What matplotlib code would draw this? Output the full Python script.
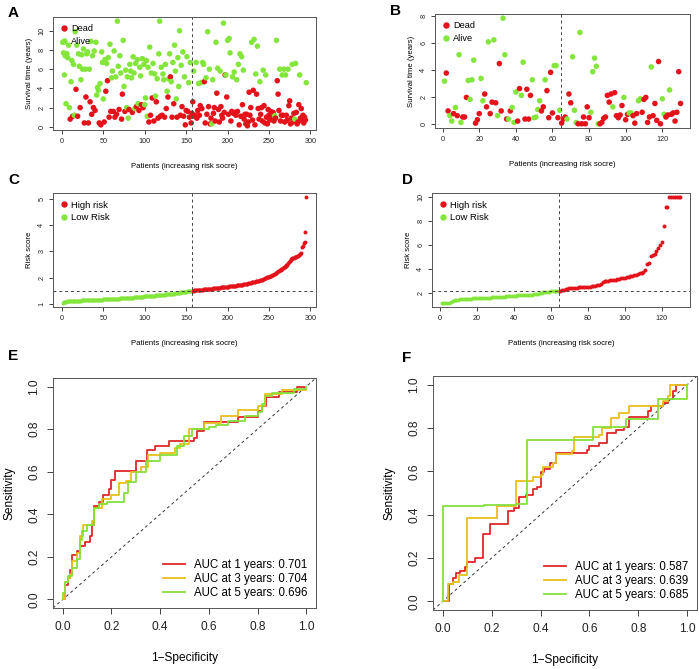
import numpy as np
import matplotlib.pyplot as plt
from matplotlib.lines import Line2D

plt.rcParams['font.family'] = ['Liberation Sans', 'DejaVu Sans']

RED = '#E3121B'
GREEN = '#84E63C'
ROC_COLS = ['#E0262A', '#E8BE1E', '#86E03A']

# Panel A: survival time per patient (training set, sorted by risk score)
surv_a = [
    8.8, 7.7, 5.4, 7.4, 2.4, 7.6, 7.2, 8.5, 2.0, 0.8,
    4.7, 6.9, 1.1, 6.5, 1.2, 9.9, 3.9, 8.5, 1.1, 7.6,
    6.3, 2.0, 4.9, 7.5, 6.0, 8.1, 0.4, 6.0, 3.1, 7.6,
    7.8, 0.4, 6.0, 2.6, 8.9, 1.3, 7.4, 2.0, 7.9, 1.7,
    8.8, 3.3, 4.1, 3.8, 0.4, 4.5, 0.2, 7.8, 6.7, 2.9,
    0.5, 7.0, 3.7, 6.6, 4.8, 7.2, 1.0, 8.6, 1.6, 5.1,
    5.8, 1.6, 7.9, 1.0, 5.2, 1.3, 11.0, 6.3, 1.8, 7.4,
    5.6, 0.8, 3.4, 9.0, 4.2, 1.6, 5.9, 2.0, 5.2, 0.9,
    1.8, 6.5, 5.8, 5.1, 1.5, 7.3, 5.6, 1.9, 6.6, 2.1,
    7.0, 2.4, 1.7, 6.2, 5.3, 2.3, 7.1, 2.0, 6.5, 2.3,
    3.0, 6.9, 1.1, 6.2, 0.5, 8.3, 1.2, 5.6, 3.0, 6.6,
    0.6, 5.5, 3.2, 2.6, 5.0, 0.9, 7.6, 11.0, 1.1, 6.2,
    1.2, 5.5, 4.9, 1.0, 6.5, 1.9, 3.7, 3.1, 5.0, 7.6,
    5.2, 4.7, 1.0, 6.7, 2.4, 8.5, 5.8, 2.9, 1.0, 7.2,
    4.2, 10.0, 1.2, 6.4, 2.1, 7.8, 1.1, 5.2, 0.2, 1.7,
    7.3, 1.6, 4.6, 1.0, 6.7, 0.4, 1.4,
    2.6, 5.8, 1.1, 1.2, 6.7, 0.9, 1.7, 4.5, 1.2, 2.2,
    4.6, 1.9, 6.7, 6.5, 4.7, 0.4, 5.1, 1.3, 9.9, 2.1,
    6.0, 0.3, 0.9, 0.3, 4.9, 1.4, 2.0, 0.6, 8.8, 3.5,
    6.1, 1.8, 0.5, 5.8, 2.1, 1.2, 0.9, 10.8, 1.5, 5.4,
    5.4, 3.1, 9.0, 1.3, 9.2, 7.7, 0.6, 1.6, 5.2, 1.4,
    5.7, 1.5, 1.2, 4.9, 1.6, 6.5, 0.2, 7.6, 1.1, 7.3,
    2.3, 5.9, 0.8, 1.3, 0.3, 1.3, 0.1, 0.5, 3.6, 1.2,
    2.0, 8.8, 0.7, 3.8, 9.1, 0.2, 5.5, 3.4, 8.4, 1.9,
    0.8, 4.7, 1.3, 2.0, 0.6, 5.9, 2.2, 0.4, 5.4, 1.0,
    0.3, 1.8, 1.2, 0.7, 1.6, 0.9, 0.8, 1.5, 0.6, 1.15,
    0.9, 9.0, 4.8, 3.4, 1.7, 6.0, 0.6, 1.2, 5.4, 1.2,
    6.0, 0.5, 5.4, 1.2, 0.7, 6.0, 2.2, 2.7, 0.3, 0.9,
    6.5, 0.5, 1.4, 0.8, 6.6, 1.5, 0.3, 0.5, 2.3, 5.4,
    0.9, 1.9, 0.6, 1.2, 0.4, 1.0, 0.7, 4.6,
]
status_a = (
    "AAAAAAAAAD" "AADAAADADA" "ADAAAADADA" "ADADADADAD" "AAAADADAAA"
    "DADADADADA" "ADADADAADA" "ADDAADAAAA" "DAAADAAAAD" "AADAADADAA"
    "AAAADADADA" "DAADADAADA" "DAADADADAA" "DADADAAADA" "AADADADADD"
    "ADADADD"
    "DADDADDADD" "ADAADDADAD" "ADDAADDDAD" "ADDADDDADD" "ADADAADDAD"
    "ADDADADADA" "DADDDDDDDD" "DADDADADAD" "DADDDADDAD" "DDDDDDDDDA"
    "DADDDADDAD" "ADADDADDDD" "ADDAADDDDA" "DDDDDDDA"
)
n_low_a = 157

# Panel B: survival time per patient (validation set)
surv_b = [
    3.2, 3.8, 1.0, 0.65, 0.25, 0.8, 1.25, 0.65, 5.15, 0.15,
    0.55, 0.55, 2.0, 3.25, 1.85, 3.3, 4.75, 0.1, 0.35, 0.8,
    3.4, 1.75, 2.25, 1.3, 6.1, 0.8, 1.65, 6.25, 1.6, 0.65,
    4.5, 1.0, 7.85, 5.15, 0.4, 0.4, 1.0, 1.25, 0.15, 2.4,
    0.25, 2.65, 2.15, 4.6, 0.4, 2.6, 0.4, 2.15, 3.3, 0.5,
    0.55, 1.1, 1.75, 1.0, 1.3, 3.3, 2.5, 0.5, 3.85, 0.85,
    4.35, 4.35, 0.5, 1.05, 0.1, 0.4, 0.55, 0.4, 2.25, 1.6,
    5.0, 1.05, 0.15, 0.05, 6.8, 0.05, 0.55, 0.05, 1.3, 0.5,
    0.9, 3.9, 4.9, 4.3, 0.05, 0.05, 0.15, 0.45, 0.55, 2.15,
    1.65, 2.25, 1.3, 2.35, 0.65, 0.5, 0.7, 1.4, 2.0, 0.35,
    0.75, 0.85, 0.85, 0.65, 0.1, 0.8, 1.75, 1.9, 0.9, 1.85,
    2.0, 0.15, 0.55, 4.25, 0.65, 1.55, 0.3, 4.65, 0.05, 1.9,
    0.75, 0.55, 0.7, 2.55, 0.75, 0.85, 0.25, 0.9, 3.9, 1.55,
]
status_b = (
    "ADDAADADAA" "DDDAAAADDD" "AADDADDADA" "DDAADADAAA" "DDAADDDDAA"
    "AAADDADDDD" "AADADDDADD" "AAADADDDDD" "AAAAADDDDD" "DDADDDDDAD"
    "DAADDDAADD" "DDDADDDDDA" "ADDADDDDDD"
)
n_low_b = 64

# Panel C: risk scores (training set)
risk_low_c = [
    1.05, 1.07, 1.08, 1.09, 1.09, 1.10, 1.10, 1.10, 1.11, 1.11,
    1.11, 1.11, 1.12, 1.12, 1.12, 1.12, 1.12, 1.13, 1.13, 1.13,
    1.13, 1.13, 1.13, 1.14, 1.14, 1.14, 1.14, 1.14, 1.14, 1.15,
    1.15, 1.15, 1.15, 1.15, 1.15, 1.15, 1.16, 1.16, 1.16, 1.16,
    1.16, 1.16, 1.16, 1.17, 1.17, 1.17, 1.17, 1.17, 1.17, 1.18,
    1.18, 1.18, 1.18, 1.18, 1.18, 1.19, 1.19, 1.19, 1.19, 1.19,
    1.20, 1.20, 1.20, 1.20, 1.20, 1.21, 1.21, 1.21, 1.21, 1.22,
    1.22, 1.22, 1.22, 1.22, 1.23, 1.23, 1.23, 1.23, 1.24, 1.24,
    1.24, 1.24, 1.25, 1.25, 1.25, 1.25, 1.26, 1.26, 1.26, 1.26,
    1.27, 1.27, 1.27, 1.27, 1.28, 1.28, 1.28, 1.28, 1.29, 1.29,
    1.29, 1.30, 1.30, 1.30, 1.30, 1.31, 1.31, 1.31, 1.32, 1.32,
    1.32, 1.32, 1.33, 1.33, 1.33, 1.34, 1.34, 1.34, 1.35, 1.35,
    1.35, 1.36, 1.36, 1.36, 1.37, 1.37, 1.37, 1.38, 1.38, 1.38,
    1.39, 1.39, 1.39, 1.40, 1.40, 1.41, 1.41, 1.41, 1.42, 1.42,
    1.43, 1.43, 1.44, 1.44, 1.45, 1.45, 1.46, 1.46, 1.47, 1.47,
    1.48, 1.48, 1.49, 1.49, 1.49, 1.50, 1.50,
]
risk_high_c = [
    1.51, 1.51, 1.52, 1.52, 1.53, 1.53, 1.53, 1.54, 1.54, 1.54,
    1.55, 1.55, 1.55, 1.56, 1.56, 1.56, 1.57, 1.57, 1.57, 1.58,
    1.58, 1.58, 1.59, 1.59, 1.59, 1.60, 1.60, 1.60, 1.61, 1.61,
    1.61, 1.62, 1.62, 1.62, 1.63, 1.63, 1.63, 1.64, 1.64, 1.65,
    1.65, 1.65, 1.66, 1.66, 1.67, 1.67, 1.68, 1.68, 1.68, 1.69,
    1.69, 1.70, 1.70, 1.71, 1.71, 1.72, 1.72, 1.73, 1.73, 1.74,
    1.74, 1.75, 1.75, 1.76, 1.77, 1.77, 1.78, 1.79, 1.79, 1.80,
    1.81, 1.82, 1.82, 1.83, 1.84, 1.85, 1.86, 1.86, 1.87, 1.88,
    1.89, 1.90, 1.91, 1.92, 1.93, 1.95, 1.96, 1.98, 1.99, 2.01,
    2.02, 2.03, 2.04, 2.05, 2.06, 2.08, 2.09, 2.11, 2.13, 2.15,
    2.17, 2.19, 2.22, 2.24, 2.26, 2.28, 2.30, 2.32, 2.34, 2.36,
    2.39, 2.42, 2.45, 2.48, 2.50, 2.54, 2.58, 2.63, 2.68, 2.72,
    2.74, 2.75, 2.76, 2.78, 2.79, 2.80, 2.82, 2.84, 2.86, 2.88,
    2.90, 2.92, 3.15, 3.20, 3.30, 3.35, 3.72, 5.05,
]
cut_c = 1.50

# Panel D: risk scores (validation set)
risk_low_d = [
    1.20, 1.20, 1.20, 1.21, 1.22, 1.30, 1.38, 1.42, 1.45, 1.47,
    1.49, 1.50, 1.51, 1.52, 1.53, 1.54, 1.55, 1.56, 1.57, 1.58,
    1.59, 1.60, 1.61, 1.62, 1.62, 1.63, 1.64, 1.65, 1.66, 1.67,
    1.68, 1.69, 1.70, 1.71, 1.72, 1.73, 1.74, 1.75, 1.77, 1.79,
    1.80, 1.81, 1.82, 1.83, 1.84, 1.85, 1.86, 1.87, 1.88, 1.89,
    1.90, 1.92, 1.95, 1.98, 2.02, 2.06, 2.10, 2.12, 2.14, 2.15,
    2.16, 2.17, 2.18, 2.19,
]
risk_high_d = [
    2.20, 2.26, 2.30, 2.34, 2.38, 2.40, 2.42, 2.44, 2.46, 2.47,
    2.48, 2.50, 2.51, 2.52, 2.53, 2.54, 2.55, 2.56, 2.57, 2.60,
    2.65, 2.72, 2.80, 2.90, 3.00, 3.02, 3.04, 3.06, 3.10, 3.12,
    3.14, 3.17, 3.20, 3.23, 3.26, 3.30, 3.34, 3.38, 3.42, 3.46,
    3.50, 3.55, 3.60, 3.65, 3.70, 3.80, 3.90, 4.40, 4.55, 5.10,
    5.20, 5.30, 5.55, 5.80, 6.00, 6.30, 7.60, 9.20, 9.20, 10.00,
    10.00, 10.00, 10.00, 10.00, 10.00, 10.00,
]
cut_d = 2.20

# Panel E: time-dependent ROC (training set)
years = [1, 3, 5]
auc_e = [0.701, 0.704, 0.696]
fpr_e1 = [0, 0.01, 0.02, 0.03, 0.04, 0.06, 0.07, 0.09, 0.11, 0.12, 0.13, 0.15, 0.165,
          0.19, 0.20, 0.215, 0.30, 0.345, 0.38, 0.435, 0.54, 0.55, 0.58, 0.72, 0.80,
          0.82, 0.835, 0.89, 0.96, 1.0]
tpr_e1 = [0, 0.07, 0.10, 0.14, 0.21, 0.23, 0.25, 0.27, 0.30, 0.35, 0.44, 0.46, 0.49,
          0.52, 0.56, 0.605, 0.65, 0.70, 0.72, 0.745, 0.76, 0.79, 0.835, 0.855, 0.885,
          0.91, 0.95, 0.975, 1.0, 1.0]
fpr_e3 = [0, 0.01, 0.02, 0.03, 0.04, 0.06, 0.07, 0.085, 0.12, 0.13, 0.16, 0.20, 0.23,
          0.26, 0.28, 0.32, 0.35, 0.40, 0.46, 0.48, 0.52, 0.58, 0.65, 0.72, 0.80,
          0.83, 0.90, 1.0]
tpr_e3 = [0, 0.08, 0.10, 0.12, 0.18, 0.22, 0.30, 0.35, 0.37, 0.43, 0.47, 0.49, 0.545,
          0.555, 0.60, 0.62, 0.68, 0.69, 0.71, 0.73, 0.80, 0.83, 0.86, 0.89, 0.91,
          0.965, 0.985, 1.0]
fpr_e5 = [0, 0, 0.01, 0.02, 0.04, 0.06, 0.07, 0.08, 0.10, 0.13, 0.15, 0.18, 0.25,
          0.27, 0.30, 0.34, 0.40, 0.47, 0.50, 0.53, 0.60, 0.63, 0.68, 0.75, 0.80,
          0.82, 0.83, 0.86, 0.95, 1.0]
tpr_e5 = [0, 0.03, 0.08, 0.11, 0.15, 0.19, 0.28, 0.32, 0.35, 0.43, 0.45, 0.46, 0.50,
          0.55, 0.60, 0.65, 0.68, 0.72, 0.77, 0.80, 0.81, 0.82, 0.84, 0.86, 0.88,
          0.92, 0.955, 0.97, 0.99, 1.0]

# Panel F: time-dependent ROC (validation set)
auc_f = [0.587, 0.639, 0.685]
fpr_f1 = [0, 0.027, 0.04, 0.055, 0.07, 0.09, 0.10, 0.13, 0.165, 0.195, 0.265, 0.29,
          0.31, 0.34, 0.37, 0.385, 0.40, 0.415, 0.44, 0.465, 0.59, 0.60, 0.64, 0.67,
          0.71, 0.74, 0.76, 0.84, 0.85, 0.90, 0.92, 0.94, 0.955, 1.0]
tpr_f1 = [0, 0.08, 0.11, 0.13, 0.14, 0.16, 0.18, 0.20, 0.31, 0.355, 0.415, 0.43,
          0.48, 0.49, 0.52, 0.53, 0.595, 0.61, 0.64, 0.685, 0.70, 0.715, 0.73, 0.775,
          0.79, 0.805, 0.85, 0.88, 0.90, 0.915, 0.935, 0.97, 1.0, 1.0]
fpr_f3 = [0, 0.02, 0.04, 0.065, 0.10, 0.22, 0.30, 0.37, 0.40, 0.41, 0.45, 0.465,
          0.53, 0.535, 0.64, 0.65, 0.69, 0.72, 0.76, 0.90, 0.92, 0.93, 1.0]
tpr_f3 = [0, 0.08, 0.09, 0.12, 0.385, 0.44, 0.555, 0.575, 0.585, 0.62, 0.64, 0.68,
          0.695, 0.76, 0.77, 0.80, 0.845, 0.87, 0.90, 0.925, 0.95, 1.0, 1.0]
fpr_f5 = [0, 0, 0.17, 0.30, 0.345, 0.615, 0.75, 0.88, 1.0, 1.0]
tpr_f5 = [0, 0.44, 0.445, 0.45, 0.745, 0.805, 0.84, 0.935, 0.935, 1.0]

W, H = 699, 669
fig = plt.figure(figsize=(W / 100, H / 100), dpi=100)


def add_box(left, top, right, bottom):
    return fig.add_axes([left / W, 1 - bottom / H, (right - left) / W, (bottom - top) / H])


def r_style(ax, fs, tick_len=3):
    ax.tick_params(direction='out', length=tick_len, width=0.6, labelsize=fs, pad=2.5,
                   colors='#222222')
    for lab in ax.get_yticklabels():
        lab.set_rotation(90)
        lab.set_va('center')
    for s in ax.spines.values():
        s.set_linewidth(0.7)
        s.set_color('#555555')


def dot_legend(ax, labels, fs):
    handles = [Line2D([], [], ls='none', marker='o', ms=4.6, mec='none', mfc=c)
               for c in (RED, GREEN)]
    ax.legend(handles, labels, loc='upper left', frameon=False, fontsize=fs,
              handlelength=0.8, handletextpad=0.35, borderaxespad=0.4, labelspacing=0.4)


def survival_panel(ax, surv, status, n_low, xticks, yticks):
    surv = np.array(surv)
    x = np.arange(1, len(surv) + 1)
    cols = [RED if s == 'D' else GREEN for s in status]
    ax.scatter(x, surv, s=16, c=cols, linewidths=0)
    ax.axvline(n_low + 0.5, color='#444444', ls=(0, (3, 3)), lw=0.7)
    ax.margins(0.04)
    ax.set_xticks(xticks)
    ax.set_yticks(yticks)
    ax.set_xlabel('Patients (increasing risk socre)', fontsize=5.6, labelpad=13)
    ax.set_ylabel('Survival time (years)', fontsize=5.6, labelpad=4)
    r_style(ax, 5.2)
    dot_legend(ax, ['Dead', 'Alive'], 6.6)


def risk_panel(ax, low, high, cut, xticks, yticks):
    x_low = np.arange(1, len(low) + 1)
    x_high = np.arange(len(low) + 1, len(low) + len(high) + 1)
    ax.scatter(x_low, low, s=8, c=GREEN, linewidths=0)
    ax.scatter(x_high, high, s=8, c=RED, linewidths=0)
    ax.axvline(len(low) + 0.5, color='#444444', ls=(0, (3, 3)), lw=0.7)
    ax.axhline(cut, color='#444444', ls=(0, (3, 3)), lw=0.7)
    ax.margins(0.04)
    ax.set_xticks(xticks)
    ax.set_yticks(yticks)
    ax.set_xlabel('Patients (increasing risk socre)', fontsize=5.6, labelpad=13)
    ax.set_ylabel('Risk score', fontsize=5.6, labelpad=4)
    r_style(ax, 5.2)
    dot_legend(ax, ['High risk', 'Low Risk'], 6.8)


def roc_panel(ax, curves, aucs):
    ax.axline((0, 0), (1, 1), color='#333333', ls=(0, (3, 3)), lw=0.7)
    handles = []
    for (fpr, tpr), auc, yr, col in zip(curves, aucs, years, ROC_COLS):
        ax.plot(fpr, tpr, drawstyle='steps-post', color=col, lw=1.3)
        handles.append(Line2D([], [], color=col, lw=1.3))
    labels = [f'AUC at {yr} years: {auc:.3f}' for yr, auc in zip(years, aucs)]
    ax.legend(handles, labels, loc='lower right', frameon=False, fontsize=8.3,
              handlelength=1.9, handletextpad=0.8, labelspacing=0.18, borderaxespad=0.35)
    ax.set_xlim(-0.04, 1.04)
    ax.set_ylim(-0.04, 1.04)
    ticks = [0.0, 0.2, 0.4, 0.6, 0.8, 1.0]
    ax.set_xticks(ticks)
    ax.set_yticks(ticks)
    ax.set_xticklabels([f'{t:.1f}' for t in ticks])
    ax.set_yticklabels([f'{t:.1f}' for t in ticks])
    ax.set_xlabel('1\u2212Specificity', fontsize=8.6, labelpad=14)
    ax.set_ylabel('Sensitivity', fontsize=8.6, labelpad=9)
    r_style(ax, 8.6, tick_len=4)
    ax.tick_params(pad=5)


ax_a = add_box(53, 17, 316, 130)
survival_panel(ax_a, surv_a, status_a, n_low_a, range(0, 301, 50), range(0, 11, 2))
ax_b = add_box(435, 14, 690, 128)
survival_panel(ax_b, surv_b, status_b, n_low_b, range(0, 121, 20), range(0, 9, 2))
ax_c = add_box(53, 193, 316, 307)
risk_panel(ax_c, risk_low_c, risk_high_c, cut_c, range(0, 301, 50), range(1, 6))
ax_d = add_box(432, 193, 690, 307)
risk_panel(ax_d, risk_low_d, risk_high_d, cut_d, range(0, 121, 20), range(2, 11, 2))
ax_e = add_box(53, 378, 316, 608)
roc_panel(ax_e, [(fpr_e1, tpr_e1), (fpr_e3, tpr_e3), (fpr_e5, tpr_e5)], auc_e)
ax_f = add_box(433, 376, 697, 610)
roc_panel(ax_f, [(fpr_f1, tpr_f1), (fpr_f3, tpr_f3), (fpr_f5, tpr_f5)], auc_f)

for letter, (px, py) in {'A': (8, 13), 'B': (390, 11), 'C': (8, 180), 'D': (402, 180),
                         'E': (8, 356), 'F': (402, 358)}.items():
    fig.text(px / W, 1 - py / H, letter, fontsize=11, fontweight='bold', va='center')

fig.savefig('out.png', dpi=100)
